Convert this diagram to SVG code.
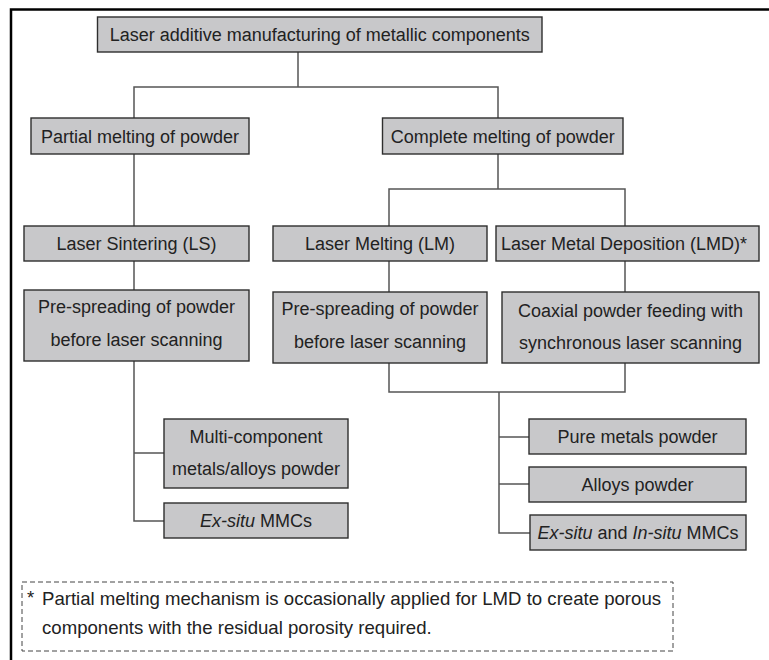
<svg xmlns="http://www.w3.org/2000/svg" width="769" height="660" viewBox="0 0 769 660">
<style>
.box{fill:#c8c8ca;stroke:#2e2e2e;stroke-width:1.4}
.t{font-family:"Liberation Sans",Arial,sans-serif;font-size:18px;fill:#222;text-anchor:middle}
.c{fill:none;stroke:#555;stroke-width:1.5}
.f{font-family:"Liberation Sans",Arial,sans-serif;font-size:18.6px;fill:#222}
</style>
<rect x="0" y="0" width="769" height="660" fill="#fff"/>
<path d="M11 670 V9.5 H780" fill="none" stroke="#000" stroke-width="2.5"/>
<g id="connectors">
<path class="c" d="M298 52 V87 M134 118 V87 H498 V118"/>
<path class="c" d="M134 154 V226 M134 261 V290 M134 361 V521 H164 M134 453 H164"/>
<path class="c" d="M498 154 V189 M389 226 V189 H625 V226"/>
<path class="c" d="M389 261 V292 M625 261 V292"/>
<path class="c" d="M389 363 V392 H625 V363 M499 392 V533 H530 M499 437 H529 M499 484 H529"/>
</g>
<g id="n-top"><rect class="box" x="97.5" y="17" width="444.5" height="35"/><text class="t" x="319.75" y="41">Laser additive manufacturing of metallic components</text></g>
<g id="n-partial"><rect class="box" x="31" y="118" width="218" height="36"/><text class="t" x="140" y="142.5">Partial melting of powder</text></g>
<g id="n-complete"><rect class="box" x="382.5" y="118" width="240.5" height="36"/><text class="t" x="502.75" y="142.5">Complete melting of powder</text></g>
<g id="n-ls"><rect class="box" x="24" y="226" width="225" height="35"/><text class="t" x="136.5" y="250">Laser Sintering (LS)</text></g>
<g id="n-lm"><rect class="box" x="273" y="226" width="214" height="35"/><text class="t" x="380" y="250">Laser Melting (LM)</text></g>
<g id="n-lmd"><rect class="box" x="496" y="226" width="263" height="35"/><text class="t" x="624" y="250">Laser Metal Deposition (LMD)*</text></g>
<g id="n-ls-pre"><rect class="box" x="24" y="290" width="225" height="71"/><text class="t" x="136.5" y="313">Pre-spreading of powder</text><text class="t" x="136.5" y="346">before laser scanning</text></g>
<g id="n-lm-pre"><rect class="box" x="273" y="292" width="214" height="71"/><text class="t" x="380" y="315">Pre-spreading of powder</text><text class="t" x="380" y="348">before laser scanning</text></g>
<g id="n-coaxial"><rect class="box" x="502" y="292" width="257" height="71"/><text class="t" x="630.5" y="317">Coaxial powder feeding with</text><text class="t" x="630.5" y="349">synchronous laser scanning</text></g>
<g id="n-multi"><rect class="box" x="164" y="419" width="184" height="69"/><text class="t" x="256" y="443">Multi-component</text><text class="t" x="256" y="475">metals/alloys powder</text></g>
<g id="n-exsitu"><rect class="box" x="164" y="503" width="184" height="35"/><text class="t" x="256" y="527"><tspan font-style="italic">Ex-situ</tspan> MMCs</text></g>
<g id="n-pure"><rect class="box" x="529" y="419" width="217" height="35"/><text class="t" x="637.5" y="443">Pure metals powder</text></g>
<g id="n-alloys"><rect class="box" x="529" y="467" width="217" height="35"/><text class="t" x="637.5" y="491">Alloys powder</text></g>
<g id="n-exin"><rect class="box" x="530" y="515" width="216" height="35"/><text class="t" x="638" y="539"><tspan font-style="italic">Ex-situ</tspan> and <tspan font-style="italic">In-situ</tspan> MMCs</text></g>
<g id="note">
<rect x="22" y="582" width="651" height="69" fill="none" stroke="#444" stroke-width="1" stroke-dasharray="5 3"/>
<text class="f" x="27" y="604">*</text>
<text class="f" x="42" y="605">Partial melting mechanism is occasionally applied for LMD to create porous</text>
<text class="f" x="42" y="634">components with the residual porosity required.</text>
</g>
</svg>
